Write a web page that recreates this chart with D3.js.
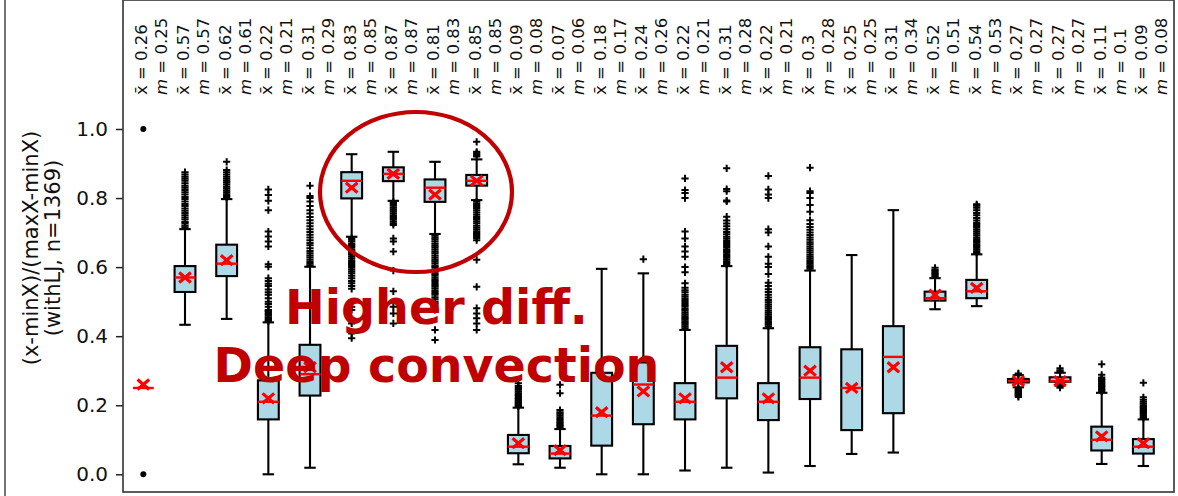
<!DOCTYPE html>
<html>
<head>
<meta charset="utf-8">
<script src="https://cdn.jsdelivr.net/npm/d3@7"></script>
<style>
  html, body { margin: 0; padding: 0; background: #fff; }
  svg { display: block; }
  text { font-family: "DejaVu Sans", sans-serif; }
</style>
</head>
<body>
<svg id="chart" width="1178" height="496"></svg>
<script>
// Normalised values per experiment: box statistics, means, medians and outliers
const categories = d3.range(1, 26).map(String);

const means   = [0.26, 0.57, 0.62, 0.22, 0.31, 0.83, 0.87, 0.81, 0.85, 0.09, 0.07, 0.18, 0.24,
                 0.22, 0.31, 0.22, 0.3, 0.25, 0.31, 0.52, 0.54, 0.27, 0.27, 0.11, 0.09];
const medians = [0.25, 0.57, 0.61, 0.21, 0.29, 0.85, 0.87, 0.83, 0.85, 0.08, 0.06, 0.17, 0.26,
                 0.21, 0.28, 0.21, 0.28, 0.25, 0.34, 0.51, 0.53, 0.27, 0.27, 0.1, 0.08];

const q1 = [0.25, 0.528, 0.574, 0.159, 0.228, 0.799, 0.849, 0.789, 0.836, 0.061, 0.046, 0.083, 0.145,
            0.159, 0.22, 0.157, 0.218, 0.128, 0.177, 0.503, 0.51, 0.266, 0.268, 0.069, 0.06];
const q3 = [0.25, 0.603, 0.665, 0.272, 0.375, 0.875, 0.889, 0.854, 0.867, 0.114, 0.082, 0.294, 0.324,
            0.264, 0.372, 0.264, 0.368, 0.362, 0.429, 0.529, 0.563, 0.276, 0.281, 0.138, 0.102];
const whiskerLow  = [0.25, 0.433, 0.45, 0.0, 0.019, 0.688, 0.792, 0.696, 0.794, 0.029, 0.019, 0.0, 0.0,
                     0.011, 0.019, 0.005, 0.024, 0.059, 0.063, 0.478, 0.487, 0.252, 0.258, 0.03, 0.024];
const whiskerHigh = [0.25, 0.71, 0.797, 0.44, 0.601, 0.927, 0.934, 0.905, 0.912, 0.193, 0.131, 0.595, 0.582,
                     0.418, 0.603, 0.423, 0.59, 0.635, 0.765, 0.568, 0.637, 0.287, 0.294, 0.236, 0.159];

const outliers = [
  [0.0, 1.0],
  [0.715, 0.72, 0.726, 0.731, 0.738, 0.744, 0.75, 0.757, 0.763, 0.77, 0.777, 0.783, 0.79, 0.797,
   0.803, 0.81, 0.817, 0.823, 0.83, 0.836, 0.843, 0.85, 0.856, 0.862, 0.868, 0.875],
  [0.801, 0.806, 0.811, 0.817, 0.822, 0.828, 0.833, 0.839, 0.845, 0.85, 0.856, 0.862, 0.868, 0.875,
   0.881, 0.905],
  [0.443, 0.447, 0.451, 0.455, 0.46, 0.464, 0.469, 0.473, 0.476, 0.485, 0.493, 0.5, 0.51, 0.52,
   0.527, 0.535, 0.545, 0.552, 0.56, 0.568, 0.601, 0.608, 0.66, 0.674, 0.689, 0.703, 0.765, 0.792,
   0.809, 0.825],
  [0.605, 0.61, 0.615, 0.621, 0.628, 0.634, 0.64, 0.647, 0.655, 0.663, 0.67, 0.678, 0.686, 0.694,
   0.702, 0.71, 0.718, 0.727, 0.736, 0.745, 0.755, 0.765, 0.777, 0.79, 0.8, 0.806, 0.836],
  [0.684, 0.679, 0.674, 0.668, 0.663, 0.658, 0.652, 0.647, 0.641, 0.636, 0.63, 0.624, 0.618, 0.612,
   0.606, 0.6, 0.594, 0.588, 0.582, 0.575, 0.568, 0.56, 0.553, 0.545, 0.537, 0.485, 0.476, 0.437,
   0.408, 0.394],
  [0.788, 0.783, 0.778, 0.772, 0.767, 0.762, 0.756, 0.75, 0.745, 0.739, 0.733, 0.727, 0.722, 0.683,
   0.674, 0.645, 0.59, 0.53, 0.485, 0.466, 0.437],
  [0.691, 0.685, 0.68, 0.674, 0.668, 0.662, 0.657, 0.651, 0.645, 0.64, 0.634, 0.628, 0.622, 0.617,
   0.611, 0.605, 0.6, 0.594, 0.588, 0.582, 0.577, 0.571, 0.565, 0.56, 0.554, 0.548, 0.543, 0.537,
   0.531, 0.525, 0.52, 0.513, 0.507, 0.5, 0.494, 0.488, 0.482, 0.476, 0.418, 0.389],
  [0.92, 0.925, 0.93, 0.934, 0.963, 0.789, 0.783, 0.777, 0.771, 0.765, 0.758, 0.752, 0.745, 0.739,
   0.733, 0.727, 0.72, 0.714, 0.708, 0.702, 0.696, 0.69, 0.684, 0.678, 0.621, 0.543, 0.481, 0.466,
   0.452, 0.437, 0.418],
  [0.197, 0.201, 0.205, 0.209, 0.213, 0.217, 0.221, 0.226, 0.23, 0.235, 0.24, 0.245, 0.25, 0.256, 0.264],
  [0.135, 0.139, 0.143, 0.147, 0.151, 0.155, 0.16, 0.165, 0.17, 0.175, 0.18, 0.186, 0.235, 0.259],
  [],
  [0.623],
  [0.423, 0.428, 0.433, 0.438, 0.443, 0.448, 0.453, 0.458, 0.463, 0.468, 0.474, 0.479, 0.485, 0.49,
   0.496, 0.502, 0.508, 0.514, 0.52, 0.527, 0.533, 0.54, 0.553, 0.585, 0.6, 0.63, 0.645, 0.66, 0.683,
   0.703, 0.8, 0.815, 0.823, 0.857],
  [0.607, 0.612, 0.617, 0.622, 0.627, 0.632, 0.637, 0.642, 0.647, 0.652, 0.658, 0.664, 0.67, 0.676,
   0.682, 0.688, 0.695, 0.702, 0.71, 0.718, 0.726, 0.735, 0.746, 0.79, 0.793, 0.82, 0.826, 0.886],
  [0.428, 0.433, 0.438, 0.443, 0.448, 0.453, 0.458, 0.463, 0.468, 0.474, 0.48, 0.486, 0.492, 0.498,
   0.505, 0.512, 0.52, 0.528, 0.536, 0.545, 0.555, 0.58, 0.6, 0.61, 0.63, 0.66, 0.7, 0.71, 0.8, 0.81,
   0.825, 0.864],
  [0.595, 0.6, 0.605, 0.61, 0.615, 0.62, 0.625, 0.63, 0.636, 0.642, 0.648, 0.654, 0.66, 0.666, 0.672,
   0.679, 0.686, 0.693, 0.7, 0.708, 0.716, 0.725, 0.736, 0.76, 0.78, 0.8, 0.815, 0.82, 0.888],
  [],
  [],
  [0.572, 0.576, 0.58, 0.584, 0.588, 0.592, 0.598],
  [0.641, 0.646, 0.651, 0.656, 0.661, 0.666, 0.671, 0.676, 0.681, 0.686, 0.692, 0.698, 0.704, 0.71,
   0.716, 0.722, 0.728, 0.735, 0.742, 0.75, 0.757, 0.765, 0.772, 0.778, 0.782],
  [0.248, 0.245, 0.242, 0.24, 0.237, 0.235, 0.232, 0.23, 0.227, 0.224, 0.29, 0.292],
  [0.297, 0.301, 0.307, 0.255, 0.251],
  [0.24, 0.244, 0.248, 0.252, 0.256, 0.26, 0.264, 0.268, 0.272, 0.276, 0.28, 0.288, 0.319],
  [0.163, 0.167, 0.171, 0.175, 0.179, 0.183, 0.187, 0.191, 0.195, 0.2, 0.205, 0.21, 0.216, 0.223, 0.265]
];

const yTicks = [0.0, 0.2, 0.4, 0.6, 0.8, 1.0];
const yLabelLines = ["(x-minX)/(maxX-minX)", "(withLJ, n=1369)"];
const noteLines = ["Higher diff.", "Deep convection"];

// ---- layout ----
const svg = d3.select("#chart");
const frame = { left: 123, right: 1174, top: 0, bottom: 492 };
const red = "#ff0000";
const noteRed = "#c00000";
const lw = 2.1;

const x = d3.scaleBand().domain(categories).range([122.5, 1164.2]).paddingInner(0).paddingOuter(0);
const y = d3.scaleLinear().domain([0, 1]).range([474.3, 129]);
const bw = x.bandwidth();
const boxW = bw * 0.5;
const capW = boxW * 0.55;
const cx = i => x(categories[i]) + bw / 2;

// outer figure border on the left
svg.append("line").attr("x1", 5).attr("x2", 5).attr("y1", 0).attr("y2", 496)
  .attr("stroke", "#444").attr("stroke-width", 1.5);

// y axis
const yAxis = d3.axisLeft(y).tickValues(yTicks).tickFormat(d3.format(".1f")).tickSize(7).tickPadding(8);
const gy = svg.append("g").attr("transform", `translate(${frame.left},0)`).call(yAxis);
gy.select(".domain").remove();
gy.selectAll(".tick line").attr("stroke", "#222").attr("stroke-width", 1.5);
gy.selectAll(".tick text").attr("font-size", 20).attr("fill", "#111")
  .attr("font-family", "DejaVu Sans");

// y axis title (two lines)
const yl = svg.append("text").attr("transform", "translate(0,248) rotate(-90)")
  .attr("text-anchor", "middle").attr("font-size", 21).attr("fill", "#111");
yLabelLines.forEach((s, k) => yl.append("tspan").attr("x", 0).attr("y", 37.5 + k * 22.5).text(s));

// boxes
const g = svg.append("g");
categories.forEach((c, i) => {
  const xc = cx(i);
  // whiskers
  g.append("line").attr("x1", xc).attr("x2", xc).attr("y1", y(whiskerLow[i])).attr("y2", y(q1[i]))
    .attr("stroke", "#000").attr("stroke-width", lw);
  g.append("line").attr("x1", xc).attr("x2", xc).attr("y1", y(q3[i])).attr("y2", y(whiskerHigh[i]))
    .attr("stroke", "#000").attr("stroke-width", lw);
  [whiskerLow[i], whiskerHigh[i]].forEach(v => {
    g.append("line").attr("x1", xc - capW / 2).attr("x2", xc + capW / 2)
      .attr("y1", y(v)).attr("y2", y(v)).attr("stroke", "#000").attr("stroke-width", lw);
  });
  // box
  if (q3[i] > q1[i]) {
    g.append("rect").attr("x", xc - boxW / 2).attr("y", y(q3[i]))
      .attr("width", boxW).attr("height", y(q1[i]) - y(q3[i]))
      .attr("fill", "#add8e6").attr("stroke", "#000").attr("stroke-width", lw);
  }
  // outliers
  outliers[i].forEach(v => {
    if (i === 0) {
      g.append("circle").attr("cx", xc).attr("cy", y(v)).attr("r", 3).attr("fill", "#000");
    } else {
      const s = 3.6;
      g.append("path")
        .attr("d", `M${xc - s},${y(v)}H${xc + s}M${xc},${y(v) - s}V${y(v) + s}`)
        .attr("stroke", "#000").attr("stroke-width", 2);
    }
  });
  // median
  g.append("line").attr("x1", xc - boxW / 2).attr("x2", xc + boxW / 2)
    .attr("y1", y(medians[i])).attr("y2", y(medians[i]))
    .attr("stroke", red).attr("stroke-width", 2.4);
  // mean marker
  const m = 5.8, ym = y(means[i]);
  g.append("path")
    .attr("d", `M${xc - m},${ym - m * 0.85}L${xc + m},${ym + m * 0.85}M${xc - m},${ym + m * 0.85}L${xc + m},${ym - m * 0.85}`)
    .attr("stroke", red).attr("stroke-width", 3.2).attr("fill", "none");
});

// rotated mean/median labels above each box
categories.forEach((c, i) => {
  const xc = cx(i);
  [["x\u0304 = " + means[i], 4], ["m = " + medians[i], 24]].forEach(([s, dx], k) => {
    const t = svg.append("text")
      .attr("transform", `translate(${xc + dx},95) rotate(-90)`)
      .attr("font-size", 16.5).attr("fill", "#111");
    if (k === 1) {
      t.append("tspan").attr("font-style", "italic").text("m");
      t.append("tspan").text(s.slice(1));
    } else {
      t.text(s);
    }
  });
});

// frame
svg.append("rect").attr("x", frame.left).attr("y", frame.top)
  .attr("width", frame.right - frame.left).attr("height", frame.bottom - frame.top)
  .attr("fill", "none").attr("stroke", "#333").attr("stroke-width", 1.6);

// annotation
const note = svg.append("text").attr("text-anchor", "middle").attr("font-size", 47.5)
  .attr("font-weight", "bold").attr("fill", noteRed);
noteLines.forEach((s, k) => note.append("tspan").attr("x", 436.5).attr("y", 323.5 + k * 58.5).text(s));

svg.append("ellipse").attr("cx", 416).attr("cy", 192).attr("rx", 96).attr("ry", 80)
  .attr("fill", "none").attr("stroke", noteRed).attr("stroke-width", 4.2);
</script>
</body>
</html>
